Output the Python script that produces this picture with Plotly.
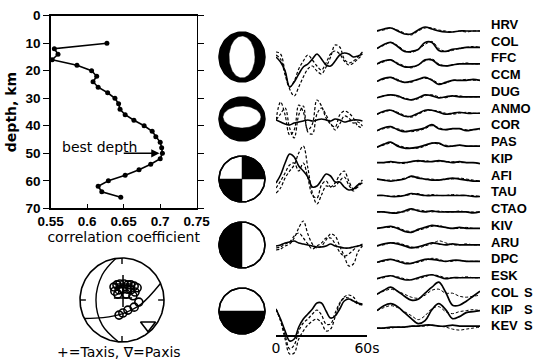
import numpy as np
import plotly.graph_objects as go

W, H = 535, 361

# ---------------- data ----------------
depth_km = [10, 12, 14, 16, 18, 20, 22, 24, 26, 28, 30, 32, 34, 36, 38, 40,
            42, 44, 46, 48, 50, 52, 54, 56, 58, 60, 62, 64, 66]
corr_coef = [0.627, 0.555, 0.560, 0.552, 0.586, 0.606, 0.613, 0.608, 0.615,
             0.628, 0.638, 0.643, 0.645, 0.652, 0.664, 0.678, 0.689, 0.694,
             0.700, 0.702, 0.703, 0.700, 0.687, 0.671, 0.652, 0.629, 0.615,
             0.620, 0.646]
best_depth = 50
best_arrow_from = 0.648
best_arrow_to = 0.699

x_ticks = [0.55, 0.6, 0.65, 0.7, 0.75]
x_ticklabels = ["0.55", "0.6", "0.65", "0.7", "0.75"]
y_ticks = [0, 10, 20, 30, 40, 50, 60, 70]

# middle column: synthetic waveforms for 5 trial mechanisms (amplitude, arbitrary units)
t_mid = [0, 3, 6, 9, 12, 15, 18, 21, 24, 27, 30, 33, 36, 39, 42, 45, 48, 51, 54, 57]
mid_solid = [
    [0, -5, -14, -30, -25, -17, -10, -7, -2, 3, -2, -8, -9, -4, 2, 4, 3, 0, 1, 3],
    [0, -2, -4, -5, -3, -2, -1, 0, -1, 0, 1, 0, -1, 1, 0, -2, -1, 0, 0, -1],
    [0, 8, 20, 29, 26, 17, 12, 6, -4, -3, 3, 9, 7, 1, 1, -4, -7, -6, -2, 0],
    [0, 1, 3, 4, 5, 3, 2, 1, 0, -1, -1, 0, 2, 0, -1, -2, -2, -1, 0, 1],
    [0, -10, -22, -32, -30, -18, -10, -5, 0, 6, 6, -2, -9, -7, 0, 8, 10, 8, 6, 5],
]
mid_dash_a = [
    [5, 3, -15, -32, -39, -30, -20, -12, -9, -14, -17, -10, 0, 12, 10, -2, -6, -4, 0, 5],
    [0, 18, 5, -15, -10, 15, 8, -10, -4, 20, 14, 2, -4, -7, 5, 9, 7, 2, -6, -8],
    [-10, -5, 5, 12, 18, 30, 37, 15, -10, -21, -12, -3, -4, 0, 8, 12, 2, -6, -4, 2],
    [-4, -3, 0, 2, 8, 18, 25, 12, 2, -2, 0, 6, 12, 10, 0, -10, -20, -18, -6, 0],
    [0, -12, -30, -45, -44, -30, -22, -16, -12, -10, -14, -22, -20, -8, 5, 12, 14, 12, 6, 4],
]
mid_dash_b = [
    [2, -2, -18, -30, -24, -12, -4, 2, -3, -9, -13, -6, 3, 6, 3, -4, -8, -6, -2, 2],
    [0, 6, 12, -8, -18, 5, 14, -12, -14, 6, 12, 5, -3, -10, -4, 4, 2, -3, -2, -6],
    [-5, 2, 10, 18, 20, 12, 20, 5, -12, -15, -2, 2, -4, -3, 2, 6, -2, -8, -2, 3],
    [-2, -1, 2, 4, 10, 13, 8, 2, -3, 0, 3, 8, 8, 2, -6, -10, -8, -4, 0, 2],
    [0, -11, -26, -40, -36, -22, -14, -10, -5, -1, -6, -15, -15, -4, 6, 11, 11, 8, 5, 4],
]
mechanisms = ["CLVD vertical", "CLVD horizontal", "strike-slip", "dip-slip 90", "dip-slip 0"]
mid_tickvals = [0, 60]
mid_ticktext = ["0", "60s"]

# right column: observed (solid) vs synthetic (dashed) at each station
stations = ["HRV", "COL", "FFC", "CCM", "DUG", "ANMO", "COR", "PAS", "KIP", "AFI",
            "TAU", "CTAO", "KIV", "ARU", "DPC", "ESK", "COL", "KIP", "KEV"]
phases = ["", "", "", "", "", "", "", "", "", "", "", "", "", "", "", "", "S", "S", "S"]
t_right = [0, 4, 8, 12, 16, 20, 24, 28, 32, 36, 40, 44, 48, 52, 56, 60]
right_solid = [
    [0, 2, 3, 0, -3, -3, 1, 4, 2, 0, -1, -1, 0, 0, 0, 0],
    [-1, 3, 5, 1, -4, -4, -2, 5, 5, -3, -4, -2, -1, 0, 0, 0],
    [0, 3, 4, 0, -3, -3, -1, 4, 4, -1, -2, -1, 0, 0, 0, 0],
    [-1, 2, 3, 0, -2, -1, 1, 3, 0, -4, -2, 0, 0, 0, 1, 0],
    [-1, 1, 2, 1, -2, -3, -1, 2, 1, -1, 0, 1, 0, 0, 0, 0],
    [-1, 2, 3, 0, -3, -3, 0, 3, 3, 1, -1, 0, 1, 0, 0, 0],
    [-1, 2, 3, 0, -2, -1, 0, 2, 5, 1, 0, 1, 1, -1, 0, 1],
    [-1, 2, 4, 0, -2, -2, -1, 1, 3, 3, 0, 0, 1, 0, 0, 0],
    [0, 0, 1, 0, 0, 1, 2, 1, 1, 2, 1, 0, 1, 0, 0, -1],
    [0, -1, -2, -1, 0, 3, 1, 0, -1, -1, 0, 1, 0, -1, -2, -2],
    [0, 0, -1, -1, 0, 2, 1, 0, 0, 0, 0, 0, 0, 0, -1, -1],
    [0, 0, -1, -1, 1, 3, 1, 0, 1, 0, 0, 0, 0, 0, -1, 0],
    [0, 1, 2, 0, -3, -4, -1, 1, 3, 2, 1, 0, 1, 0, 0, 0],
    [-1, 1, 2, 1, -1, -3, -2, 0, 2, 1, 0, 1, 0, 0, 0, 0],
    [-1, 1, 2, 0, -2, -2, 0, 2, 2, 1, 0, 1, 1, 0, 0, 0],
    [-1, 1, 2, 0, -2, -2, 0, 2, 3, 1, -1, 0, 0, 0, 0, 0],
    [0, 4, 7, 3, -2, -6, -5, 1, 7, 12, 2, -11, -11, -7, -2, 3],
    [0, 5, 7, 4, -2, -8, -13, -10, 1, 7, 1, -8, -6, -2, -1, 0],
    [-1, -1, 0, 0, 0, 1, 1, 2, 2, 1, 1, 2, 1, 1, 1, 1],
]
right_dashed = [
    [0, 1, 3, 1, -2, -4, 0, 3, 3, 1, 0, -1, 0, -1, 0, 0],
    [-1, 2, 5, 2, -3, -5, -2, 3, 6, -1, -4, -3, -1, 0, 1, 0],
    [0, 2, 4, 1, -2, -4, -1, 3, 5, 0, -2, -1, 0, 1, 0, 0],
    [-1, 1, 3, 1, -2, -2, 1, 2, 1, -3, -3, 0, 0, 1, 0, 0],
    [-1, 1, 2, 0, -1, -3, -2, 1, 2, 0, -1, 1, 1, 0, 0, 0],
    [-1, 1, 3, 1, -2, -4, -1, 2, 3, 2, 0, -1, 0, 1, 0, 0],
    [-1, 1, 2, 1, -1, -2, -1, 1, 4, 2, 0, 1, 1, 0, 0, 0],
    [-1, 1, 3, 1, -1, -2, -2, 0, 3, 2, 1, 0, 1, 0, 0, 0],
    [0, 0, 0, 0, -1, 1, 1, 2, 1, 1, 1, 1, 0, 0, 0, -1],
    [0, -1, -1, -1, 1, 2, 2, 0, 0, -1, 0, 0, 1, 0, -1, -2],
    [0, 0, -1, 0, 0, 1, 2, 0, 1, 0, 0, 1, 0, 0, 0, -1],
    [0, 0, -1, 0, 0, 2, 2, 1, 0, 1, 0, 0, 1, 0, 0, 0],
    [0, 1, 1, 1, -2, -3, -2, 0, 2, 3, 1, 0, 0, 1, 0, 0],
    [-1, 0, 2, 2, 0, -2, -3, -1, 1, 4, 2, 0, 0, 1, 0, 0],
    [-1, 0, 2, 1, -1, -2, -1, 1, 3, 2, 0, 0, 1, 0, 0, 0],
    [-1, 0, 2, 1, -1, -2, -1, 1, 3, 2, 0, 0, 0, 1, 0, 0],
    [0, 3, 5, 3, 0, -3, -4, -1, 4, 5, 1, 1, -2, -3, -2, -1],
    [0, 3, 5, 3, -1, -5, -9, -5, 2, 4, -1, -3, -1, 0, 1, 0],
    [-1, -1, -1, 0, 0, 1, 1, 1, 2, 1, 0, -2, -3, -2, -1, 0],
]

# stereonet: solutions (circles), T axes (+), P axis (triangle), nodal planes
sol_east = [-0.19, -0.12, -0.05, 0.05, 0.14, 0.21, 0.29, 0.36, -0.17, -0.07, 0.02,
            0.12, 0.21, 0.31, -0.10, 0.10, 0.26, 0.40, 0.29, 0.14, 0.02, -0.07]
sol_north = [0.31, 0.36, 0.38, 0.38, 0.36, 0.36, 0.33, 0.29, 0.21, 0.24, 0.26,
             0.26, 0.24, 0.19, 0.14, 0.14, 0.10, -0.05, -0.17, -0.24, -0.31, -0.36]
taxis_east = [0.024, 0.024]
taxis_north = [0.38, 0.05]
paxis_east = [0.62]
paxis_north = [-0.60]
plane1_east = [-0.15, -0.47, -0.62, -0.47, -0.08]
plane1_north = [0.99, 0.60, 0.0, -0.60, -1.0]
plane2_east = [-0.90, -0.45, 0.0, 0.45, 0.92]
plane2_north = [-0.44, -0.42, -0.33, -0.10, 0.40]

# ---------------- layout helpers ----------------
def px(x):
    return x / W


def py(y):
    return 1 - y / H


BLACK = "black"
FONT_TICK = "Liberation Sans"
FONT_TXT = "DejaVu Sans"

fig = go.Figure()

# ---- main correlation vs depth ----
fig.add_trace(go.Scatter(x=corr_coef, y=depth_km, mode="lines+markers",
                         line=dict(color=BLACK, width=1.6),
                         marker=dict(color=BLACK, size=5),
                         xaxis="x", yaxis="y", showlegend=False))

# ---- middle waveforms (on full-height y6, time axis x2) ----
mid_base = [0, -63, -126, -189, -252]
for i in range(len(mechanisms)):
    b = mid_base[i]
    for arr, dash, wid in ((mid_dash_a[i], "3px,2px", 1.2),
                           (mid_dash_b[i], "3px,2px", 1.2),
                           (mid_solid[i], "solid", 1.6)):
        fig.add_trace(go.Scatter(x=t_mid, y=[b + v for v in arr], mode="lines",
                                 line=dict(color=BLACK, width=wid, dash=dash, shape="spline"),
                                 xaxis="x2", yaxis="y6", showlegend=False))
# invisible anchor trace so the time axis is drawn
fig.add_trace(go.Scatter(x=[0], y=[0], mode="markers", marker=dict(opacity=0),
                         xaxis="x2", yaxis="y2", showlegend=False, hoverinfo="skip"))

# ---- right waveforms ----
r_spacing = 16.45
for i in range(len(stations)):
    b = -i * r_spacing
    fig.add_trace(go.Scatter(x=t_right, y=[b + v for v in right_dashed[i]], mode="lines",
                             line=dict(color=BLACK, width=1.0, dash="3px,2px", shape="spline"),
                             xaxis="x3", yaxis="y3", showlegend=False))
    fig.add_trace(go.Scatter(x=t_right, y=[b + v for v in right_solid[i]], mode="lines",
                             line=dict(color=BLACK, width=1.7, shape="spline"),
                             xaxis="x3", yaxis="y3", showlegend=False))

# ---- beach balls ----
ball_y = [0, -62, -122, -188, -254]
R = 23


def ellipse(cx, cy, rx, ry, n=90):
    th = np.linspace(0, 2 * np.pi, n)
    return cx + rx * np.cos(th), cy + ry * np.sin(th)


def wedge(cx, cy, r, a0, a1, n=50):
    th = np.radians(np.linspace(a0, a1, n))
    xs = np.concatenate([[cx], cx + r * np.cos(th), [cx]])
    ys = np.concatenate([[cy], cy + r * np.sin(th), [cy]])
    return xs, ys


def poly(xs, ys, fill, lw=1.5):
    fig.add_trace(go.Scatter(x=xs, y=ys, mode="lines", fill="toself", fillcolor=fill,
                             line=dict(color=BLACK, width=lw),
                             xaxis="x4", yaxis="y4", showlegend=False, hoverinfo="skip"))


for i, mech in enumerate(mechanisms):
    cy = ball_y[i]
    if mech == "CLVD vertical":
        poly(*ellipse(0, cy, R, R + 2), BLACK)
        poly(*ellipse(0, cy, 13, 21), "white", 0.5)
    elif mech == "CLVD horizontal":
        poly(*ellipse(0, cy, R, R - 1), BLACK)
        poly(*ellipse(0, cy + 2, 19, 11), "white", 0.5)
    else:
        poly(*ellipse(0, cy, R, R), "white")
        if mech == "strike-slip":
            poly(*wedge(0, cy, R, 0, 90), BLACK, 0.5)
            poly(*wedge(0, cy, R, 180, 270), BLACK, 0.5)
        elif mech == "dip-slip 90":
            poly(*wedge(0, cy, R, 90, 270), BLACK, 0.5)
        else:
            poly(*wedge(0, cy, R, 180, 360), BLACK, 0.5)
        xs, ys = ellipse(0, cy, R, R)
        fig.add_trace(go.Scatter(x=xs, y=ys, mode="lines", line=dict(color=BLACK, width=1.5),
                                 xaxis="x4", yaxis="y4", showlegend=False))

# ---- stereonet ----
th = np.linspace(0, 2 * np.pi, 200)
fig.add_trace(go.Scatter(x=np.cos(th), y=np.sin(th), mode="lines",
                         line=dict(color=BLACK, width=1.6), xaxis="x5", yaxis="y5",
                         showlegend=False))
for a in (0, 90, 180, 270):
    ar = np.radians(a)
    fig.add_trace(go.Scatter(x=[np.cos(ar), 0.86 * np.cos(ar)], y=[np.sin(ar), 0.86 * np.sin(ar)],
                             mode="lines", line=dict(color=BLACK, width=1.4),
                             xaxis="x5", yaxis="y5", showlegend=False))
for ex, ny in ((plane1_east, plane1_north), (plane2_east, plane2_north)):
    fig.add_trace(go.Scatter(x=ex, y=ny, mode="lines",
                             line=dict(color=BLACK, width=1.4, shape="spline"),
                             xaxis="x5", yaxis="y5", showlegend=False))
fig.add_trace(go.Scatter(x=sol_east, y=sol_north, mode="markers",
                         marker=dict(symbol="circle-open", size=8, color=BLACK,
                                     line=dict(width=1.6, color=BLACK)),
                         xaxis="x5", yaxis="y5", showlegend=False))
fig.add_trace(go.Scatter(x=taxis_east, y=taxis_north, mode="markers",
                         marker=dict(symbol="cross-thin", size=13, color=BLACK,
                                     line=dict(width=1.5, color=BLACK)),
                         xaxis="x5", yaxis="y5", showlegend=False))
fig.add_trace(go.Scatter(x=paxis_east, y=paxis_north, mode="markers",
                         marker=dict(symbol="triangle-down-open", size=13, color=BLACK,
                                     line=dict(width=1.6, color=BLACK)),
                         xaxis="x5", yaxis="y5", showlegend=False))

# ---------------- axes ----------------
hidden = dict(visible=False, showgrid=False, zeroline=False, fixedrange=True, automargin=False)
sn_half = 46 / 42.0
AX_LINE = 335
layout = dict(
    width=W, height=H, margin=dict(l=0, r=0, t=0, b=0, autoexpand=False),
    paper_bgcolor="white", plot_bgcolor="rgba(0,0,0,0)", showlegend=False,
    xaxis=dict(domain=[px(50.7), px(196.7)], range=[0.55, 0.75], automargin=False,
               tickvals=x_ticks, ticktext=x_ticklabels, ticks="inside", ticklen=4,
               tickwidth=1.4, tickcolor=BLACK, showline=True, linecolor=BLACK, linewidth=1.5,
               mirror=True, showgrid=False, zeroline=False,
               tickfont=dict(family=FONT_TICK, size=13.5, color=BLACK, weight="bold"),
               title=dict(text="correlation coefficient", standoff=3,
                          font=dict(family=FONT_TXT, size=14, color=BLACK))),
    yaxis=dict(domain=[py(208.3), py(15.7)], range=[70, 0], tickvals=y_ticks, automargin=False,
               ticks="outside", ticklen=6, tickwidth=1.4, tickcolor=BLACK,
               showline=True, linecolor=BLACK, linewidth=1.5, mirror="ticks",
               showgrid=False, zeroline=False,
               tickfont=dict(family=FONT_TICK, size=13.5, color=BLACK, weight="bold"),
               title=dict(text="depth, km", standoff=5,
                          font=dict(family=FONT_TXT, size=14, color=BLACK, weight="bold"))),
    xaxis2=dict(domain=[px(276), px(367)], range=[0, 60], anchor="y2", automargin=False,
                tickvals=mid_tickvals, ticktext=mid_ticktext, ticks="inside", ticklen=5,
                tickwidth=1.5, tickcolor=BLACK, showline=True, linecolor=BLACK, linewidth=1.5,
                showgrid=False, zeroline=False,
                tickfont=dict(family=FONT_TXT, size=14, color=BLACK)),
    yaxis2=dict(domain=[py(AX_LINE), 1], range=[57 - AX_LINE, 57], anchor="x2", **hidden),
    yaxis6=dict(domain=[0, 1], range=[57 - H, 57], anchor="x2", **hidden),
    xaxis3=dict(domain=[px(377), px(480)], range=[0, 60], anchor="y3", **hidden),
    yaxis3=dict(domain=[0, 1], range=[31 - H, 31], anchor="x3", **hidden),
    xaxis4=dict(domain=[px(212), px(272)], range=[-30, 30], anchor="y4", **hidden),
    yaxis4=dict(domain=[0, 1], range=[57 - H, 57], anchor="x4", **hidden),
    xaxis5=dict(domain=[px(122 - 46), px(122 + 46)], range=[-sn_half, sn_half], anchor="y5", **hidden),
    yaxis5=dict(domain=[py(300 + 46), py(300 - 46)], range=[-sn_half, sn_half], anchor="x5", **hidden),
)
fig.update_layout(**layout)

ann = []
# best depth arrow and label
ann.append(dict(x=best_arrow_to, y=best_depth, ax=best_arrow_from, ay=best_depth,
                xref="x", yref="y", axref="x", ayref="y", text="", showarrow=True,
                arrowhead=2, arrowsize=1.1, arrowwidth=1.5, arrowcolor=BLACK))
ann.append(dict(x=0.617, y=best_depth - 2.2, xref="x", yref="y", text="best depth",
                showarrow=False, font=dict(family=FONT_TXT, size=14, color=BLACK)))
# station labels
for i, (s, ph) in enumerate(zip(stations, phases)):
    yy = py(24.3 + 16.76 * i)
    ann.append(dict(x=px(489), y=yy, xref="paper", yref="paper", text=s, showarrow=False,
                    xanchor="left", yanchor="middle",
                    font=dict(family=FONT_TICK, size=13, color=BLACK, weight="bold")))
    if ph:
        ann.append(dict(x=px(522), y=yy, xref="paper", yref="paper", text=ph, showarrow=False,
                        xanchor="left", yanchor="middle",
                        font=dict(family=FONT_TICK, size=13, color=BLACK, weight="bold")))
ann.append(dict(x=px(119), y=py(352), xref="paper", yref="paper",
                text="+=Taxis, \u2207=Paxis", showarrow=False, xanchor="center", yanchor="middle",
                font=dict(family=FONT_TXT, size=14, color=BLACK)))
fig.update_layout(annotations=ann)

fig.write_html("out.html", config={"displayModeBar": False, "staticPlot": True},
               post_script="document.body.style.margin='0';document.body.style.overflow='hidden';")
